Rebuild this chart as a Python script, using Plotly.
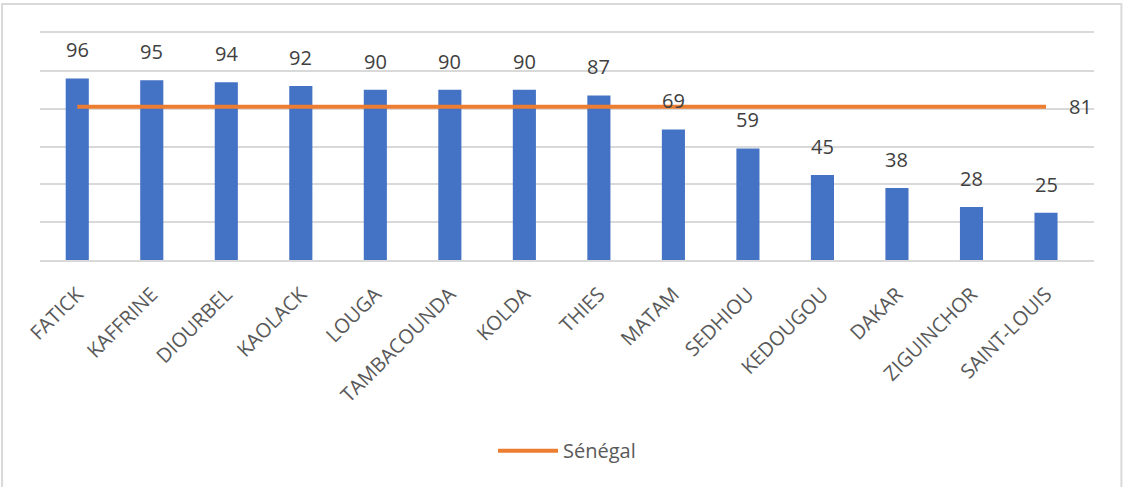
import plotly.graph_objects as go

regions = ["FATICK", "KAFFRINE", "DIOURBEL", "KAOLACK", "LOUGA", "TAMBACOUNDA", "KOLDA",
           "THIES", "MATAM", "SEDHIOU", "KEDOUGOU", "DAKAR", "ZIGUINCHOR", "SAINT-LOUIS"]
region_values = [96, 95, 94, 92, 90, 90, 90, 87, 69, 59, 45, 38, 28, 25]
senegal_values = [81, 81, 81, 81, 81, 81, 81, 81, 81, 81, 81, 81, 81, 81]

BLUE = "#4472C4"
ORANGE = "#ED7D31"
GRID = "#D9D9D9"
FONT = "Open Sans"

fig = go.Figure()
fig.add_trace(go.Bar(x=regions, y=region_values, marker=dict(color=BLUE, line=dict(width=0)),
                     showlegend=False, hoverinfo="x+y"))
fig.add_trace(go.Scatter(x=regions, y=senegal_values, mode="lines", name="Sénégal",
                         line=dict(color=ORANGE, width=4)))

# value labels above the bars
for reg, val in zip(regions, region_values):
    fig.add_annotation(x=reg, y=val, text=str(val), showarrow=False, yanchor="bottom",
                       yshift=13, font=dict(family=FONT, size=20, color="#404040"))

# label at the end of the national line
fig.add_annotation(x=regions[-1], y=senegal_values[-1], text=str(senegal_values[-1]),
                   showarrow=False, xanchor="left", xshift=21,
                   font=dict(family=FONT, size=20, color="#404040"))

# chart frame (bottom edge falls outside the page, like the reference)
fig.add_shape(type="rect", xref="paper", yref="paper", x0=-0.036, x1=1.026, y0=-1.2, y1=1.128,
              line=dict(color=GRID, width=2), layer="below")

fig.update_layout(
    width=1123, height=487,
    margin=dict(l=40, r=29, t=33, b=227, autoexpand=False),
    paper_bgcolor="white", plot_bgcolor="white",
    bargap=0.69,
    font=dict(family=FONT, color="#595959"),
    xaxis=dict(tickangle=-45, tickfont=dict(size=20, color="#595959"), showgrid=False,
               showline=True, mirror=True, linecolor=GRID, linewidth=1.5, ticks="",
               ticklabelstandoff=13, automargin=False),
    yaxis=dict(range=[0, 120], dtick=20, showticklabels=False, gridcolor=GRID, gridwidth=1.5,
               zeroline=False, showline=False),
    legend=dict(orientation="h", x=0.5, xanchor="center", y=-0.84, yanchor="middle",
                itemwidth=60, font=dict(size=20, color="#595959")),
)

# the browser's default 8px body margin would shift the whole chart
fig.write_html("out.html", config={"displayModeBar": False},
               post_script="document.body.style.margin='0';"
                           "document.body.style.overflow='hidden';")
